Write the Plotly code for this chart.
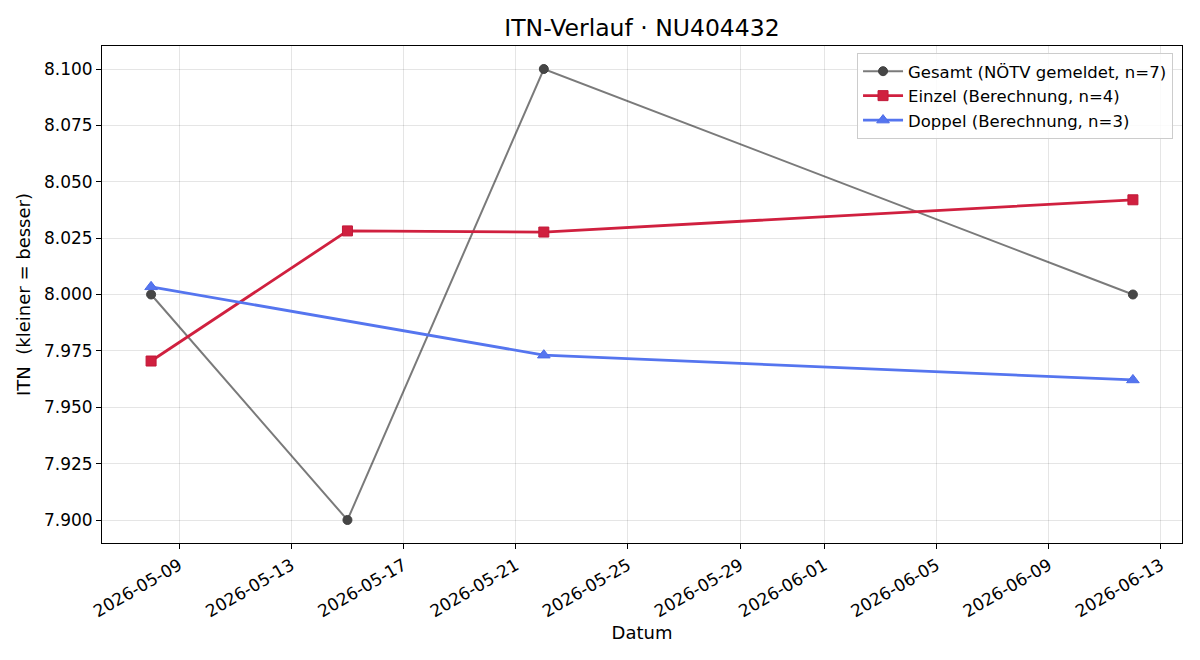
import plotly.graph_objects as go

# Data
gesamt_dates = ["2026-05-08", "2026-05-15", "2026-05-22", "2026-06-12"]
gesamt_vals = [8.000, 7.900, 8.100, 8.000]

einzel_dates = ["2026-05-08", "2026-05-15", "2026-05-22", "2026-06-12"]
einzel_vals = [7.9705, 8.0282, 8.0277, 8.0420]

doppel_dates = ["2026-05-08", "2026-05-22", "2026-06-12"]
doppel_vals = [8.0034, 7.9731, 7.9621]

x_tick_dates = ["2026-05-09", "2026-05-13", "2026-05-17", "2026-05-21", "2026-05-25",
                "2026-05-29", "2026-06-01", "2026-06-05", "2026-06-09", "2026-06-13"]
y_ticks = [7.900, 7.925, 7.950, 7.975, 8.000, 8.025, 8.050, 8.075, 8.100]

FONT = "DejaVu Sans"

fig = go.Figure()
fig.add_trace(go.Scatter(
    x=gesamt_dates, y=gesamt_vals, mode="lines+markers",
    name="Gesamt (NÖTV gemeldet, n=7)",
    line=dict(color="rgba(0,0,0,0.52)", width=2),
    marker=dict(symbol="circle", size=9, color="#464646",
                line=dict(color="#404040", width=1)),
))
fig.add_trace(go.Scatter(
    x=einzel_dates, y=einzel_vals, mode="lines+markers",
    name="Einzel (Berechnung, n=4)",
    line=dict(color="#d0203f", width=2.8),
    marker=dict(symbol="square", size=10, color="#d0203f",
                line=dict(color="#c01838", width=1)),
))
fig.add_trace(go.Scatter(
    x=doppel_dates, y=doppel_vals, mode="lines+markers",
    name="Doppel (Berechnung, n=3)",
    line=dict(color="#5575ef", width=2.8),
    marker=dict(symbol="triangle-up", size=11, color="#5575ef",
                line=dict(color="#4c6ce8", width=1)),
))

fig.update_layout(
    width=1200, height=660,
    margin=dict(l=102, r=18, t=46, b=117),
    paper_bgcolor="white", plot_bgcolor="white",
    font=dict(family=FONT, size=17, color="black"),
    title=dict(text="ITN-Verlauf · NU404432", x=(102 + 1182) / 2 / 1200, xanchor="center",
               y=1 - 28 / 660, yanchor="middle", yref="container",
               font=dict(family=FONT, size=23.5, color="black")),
    showlegend=True,
    legend=dict(x=0.9917, y=0.986, xanchor="right", yanchor="top",
                bgcolor="rgba(255,255,255,0.85)", bordercolor="#cccccc", borderwidth=1,
                font=dict(family=FONT, size=16.5, color="black"),
                tracegroupgap=1, itemwidth=40),
)

fig.update_xaxes(
    type="date",
    range=["2026-05-06 06:00", "2026-06-13 18:00"],
    tickvals=x_tick_dates, ticktext=x_tick_dates,
    tickangle=-30, tickfont=dict(family=FONT, size=17),
    ticks="outside", ticklen=5, tickcolor="black",
    showline=True, linecolor="black", linewidth=1, mirror=True,
    showgrid=True, gridcolor="rgba(0,0,0,0.1)", gridwidth=1,
    zeroline=False,
    title=dict(text="Datum", font=dict(family=FONT, size=18), standoff=6),
)
fig.update_yaxes(
    range=[7.8898, 8.1102],
    tickvals=y_ticks, ticktext=[f"{v:.3f}" for v in y_ticks],
    tickfont=dict(family=FONT, size=17),
    ticks="outside", ticklen=5, tickcolor="black",
    showline=True, linecolor="black", linewidth=1, mirror=True,
    showgrid=True, gridcolor="rgba(0,0,0,0.1)", gridwidth=1,
    zeroline=False,
    title=dict(text="ITN\u00a0 (kleiner = besser)", font=dict(family=FONT, size=18), standoff=8),
)

fig.write_html("out.html")
